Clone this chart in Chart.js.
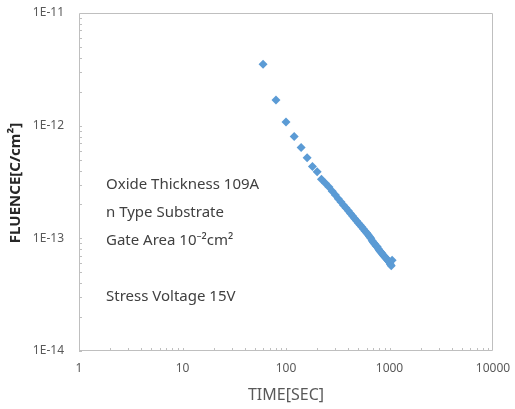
<!DOCTYPE html>
<html>
<head>
<meta charset="utf-8">
<script src="https://cdn.jsdelivr.net/npm/chart.js@4/dist/chart.umd.min.js"></script>
<style>
  html,body{margin:0;padding:0;background:#fff;}
  #wrap{width:515px;height:409px;position:relative;}
</style>
</head>
<body>
<div id="wrap"><canvas id="c" width="515" height="409"></canvas></div>
<script>
// values
const timeSec = [60,80,100,120,140,160,180,200,220,240,260,280,300,320,340,360,380,400,420,440,
  460,480,500,520,540,560,580,600,620,640,660,680,700,720,740,760,780,800,820,840,
  860,880,900,920,940,960,980,1000,1020,1040,1060];
const fluence = [3.5e-12,1.69e-12,1.08e-12,8.0e-13,6.4e-13,5.2e-13,4.35e-13,3.9e-13,3.35e-13,3.08e-13,
  2.85e-13,2.62e-13,2.42e-13,2.25e-13,2.10e-13,1.97e-13,1.86e-13,1.76e-13,1.66e-13,1.58e-13,
  1.50e-13,1.43e-13,1.37e-13,1.31e-13,1.26e-13,1.21e-13,1.16e-13,1.12e-13,1.08e-13,1.04e-13,
  1.0e-13,9.5e-14,9.2e-14,8.9e-14,8.6e-14,8.4e-14,8.1e-14,7.8e-14,7.6e-14,7.4e-14,
  7.2e-14,7.0e-14,6.85e-14,6.7e-14,6.55e-14,6.4e-14,6.25e-14,6.1e-14,5.9e-14,5.7e-14,6.4e-14];
const xTicks = [1,10,100,1000,10000];
const xTickLabels = ['1','10','100','1000','10000'];
const yTicks = [1e-14,1e-13,1e-12,1e-11];
const yTickLabels = ['1E-14','1E-13','1E-12','1E-11'];
const notes = ['Oxide Thickness 109A','n Type Substrate','Gate Area 10\u207B\u00B2cm\u00B2','','Stress Voltage 15V'];
const yTitle = 'FLUENCE[C/cm\u00B2]';

const gray = '#bfbfbf';
const frame = {
  id:'frame',
  afterDraw(chart){
    const {ctx, chartArea:a, scales:{x,y}} = chart;
    ctx.save();
    ctx.strokeStyle = gray; ctx.lineWidth = 1;
    ctx.beginPath();
    ctx.moveTo(a.left+0.5, a.top+0.5); ctx.lineTo(a.right-0.5, a.top+0.5); ctx.lineTo(a.right-0.5, a.bottom-0.5);
    ctx.lineTo(a.left+0.5, a.bottom-0.5); ctx.closePath();
    ctx.stroke();
    // minor tick marks, inside
    ctx.beginPath();
    for(let d=1; d<10000; d*=10){
      for(let m=1; m<10; m++){
        const px = Math.round(x.getPixelForValue(d*m))+0.5;
        ctx.moveTo(px, a.bottom); ctx.lineTo(px, a.bottom-3);
      }
    }
    for(let d=1e-14; d<9e-12; d*=10){
      for(let m=1; m<10; m++){
        const py = Math.round(y.getPixelForValue(d*m))+0.5;
        ctx.moveTo(a.left, py); ctx.lineTo(a.left+3, py);
      }
    }
    ctx.stroke();
    // y title
    ctx.translate(16, 183);
    ctx.rotate(-Math.PI/2);
    ctx.fillStyle = '#262626';
    ctx.font = 'bold 15px "Noto Sans"';
    ctx.textAlign = 'center'; ctx.textBaseline = 'middle';
    ctx.fillText(yTitle, 0, 0);
    ctx.setTransform(1,0,0,1,0,0);
    // notes
    ctx.fillStyle = '#404040';
    ctx.font = '15px "Noto Sans"';
    ctx.textAlign = 'left'; ctx.textBaseline = 'middle';
    notes.forEach((t,i)=>{ if(t) ctx.fillText(t, 106, 185 + i*28); });
    ctx.restore();
  }
};

new Chart(document.getElementById('c'), {
  type:'scatter',
  data:{ datasets:[{
    data: timeSec.map((t,i)=>({x:t, y:fluence[i]})),
    backgroundColor:'#5b9bd5', borderColor:'#5b9bd5',
    pointStyle:'rectRot', pointRadius:4.5, borderWidth:0
  }]},
  options:{
    responsive:false, animation:false,
    layout:{ padding:{ left:0, right:22, top:13, bottom:0 } },
    plugins:{ legend:{display:false}, tooltip:{enabled:false} },
    scales:{
      x:{
        type:'logarithmic', min:1, max:10000,
        afterBuildTicks: s => { s.ticks = xTicks.map(v=>({value:v})); },
        afterFit: s => { s.height = 58; s.paddingLeft = 0; s.paddingRight = 0; },
        grid:{ display:false, drawTicks:false },
        border:{ display:false },
        ticks:{ color:'#595959', font:{family:'"Noto Sans"', size:12}, padding:10, maxRotation:0,
          callback: v => xTickLabels[xTicks.indexOf(v)] ?? '' },
        title:{ display:true, text:'TIME[SEC]', color:'#595959', font:{family:'"Noto Sans"', size:16}, padding:{top:0,bottom:4} }
      },
      y:{
        type:'logarithmic', min:1e-14, max:1e-11,
        afterBuildTicks: s => { s.ticks = yTicks.map(v=>({value:v})); },
        afterFit: s => { s.width = 79; s.paddingTop = 0; s.paddingBottom = 0; },
        grid:{ display:false, drawTicks:false },
        border:{ display:false },
        ticks:{ color:'#595959', font:{family:'"Noto Sans"', size:12}, padding:15,
          callback: v => { const i = yTicks.findIndex(t=>Math.abs(t-v)/t < 1e-6); return i<0 ? '' : yTickLabels[i]; } },
        title:{ display:false }
      }
    }
  },
  plugins:[frame]
});
</script>
</body>
</html>
